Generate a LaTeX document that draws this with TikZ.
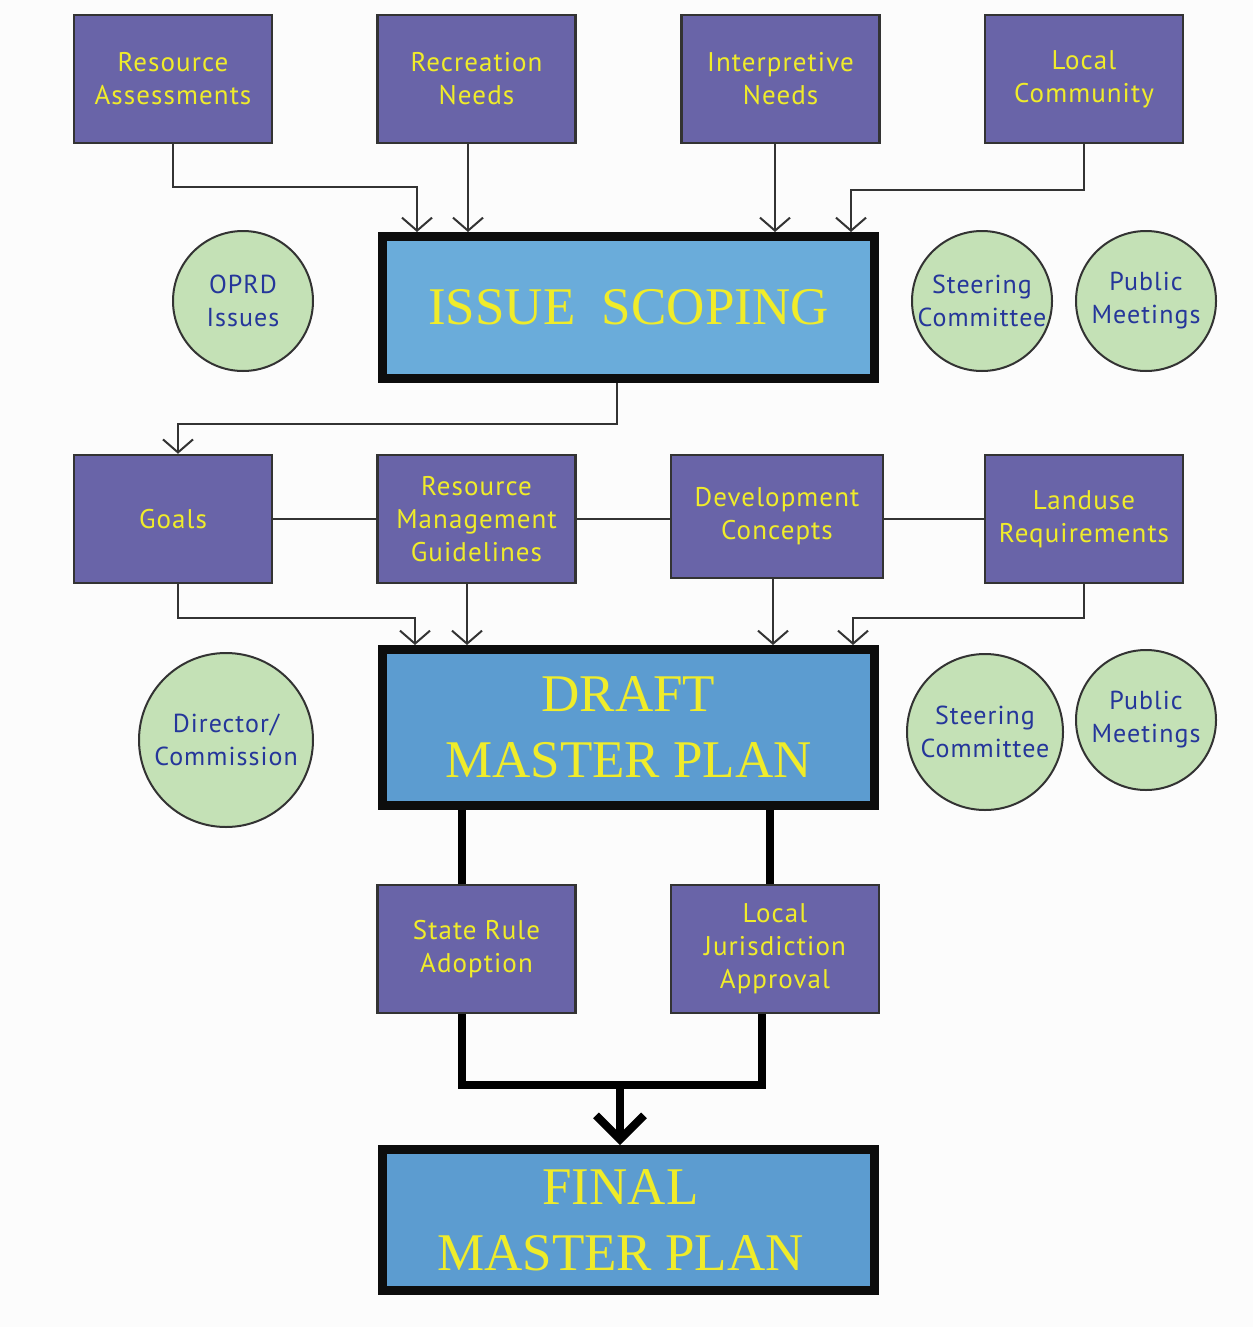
\documentclass[tikz,border=0pt]{standalone}
\usepackage{fontspec}
\setmainfont{Liberation Serif}
\newfontfamily\labelfont[LetterSpace=4]{PT Sans}
\usetikzlibrary{arrows.meta}
\definecolor{purp}{HTML}{6964A8}
\definecolor{blueA}{HTML}{6AACDA}
\definecolor{blueB}{HTML}{5C9CD0}
\definecolor{yel}{HTML}{F0EC2A}
\definecolor{grn}{HTML}{C4E1B6}
\definecolor{navy}{HTML}{25369A}
\definecolor{edge}{HTML}{333333}
\definecolor{bg}{HTML}{FCFCFC}
\begin{document}
\begin{tikzpicture}[x=1pt,y=-1pt,
  pbox/.style={draw=edge, line width=2.5pt, fill=purp, text=yel,
    font=\labelfont\fontsize{27}{33}\selectfont, align=center, inner sep=0pt,
    minimum width=198pt, minimum height=128pt},
  bigbox/.style={draw=black!95, line width=9pt, text=yel,
    font=\fontsize{53}{66}\selectfont, align=center, inner sep=0pt,
    minimum width=492pt},
  disc/.style={circle, draw=edge, line width=2pt, fill=grn, text=navy,
    font=\labelfont\fontsize{26}{33}\selectfont, align=center, inner sep=0pt},
  conn/.style={draw=edge, line width=2pt},
  arr/.style={conn, -{Straight Barb[length=13pt,width=30pt,line width=2pt]}},
  heavy/.style={draw=black, line width=8pt, line join=miter},
  heavyarr/.style={heavy, -{Straight Barb[length=24pt,width=48pt,line width=8pt]}}
]
\useasboundingbox[fill=bg] (0,0) rectangle (1253,1327);

% top row
\node[pbox] (ra) at (173,79) {Resource\\Assessments};
\node[pbox] (rn) at (476.5,79) {Recreation\\Needs};
\node[pbox] (in) at (780.5,79) {Interpretive\\Needs};
\node[pbox] (lc) at (1084,79) {Local\\Community};

% issue scoping
\node[bigbox, fill=blueA, minimum height=142pt] (is) at (628.5,307.5) {ISSUE\hspace{0.5em}SCOPING};

\node[disc, minimum size=140pt] (oprd) at (243,301) {OPRD\\Issues};
\node[disc, minimum size=140pt] (sc1) at (982,301) {Steering\\Committee};
\node[disc, minimum size=140pt] (pm1) at (1146,301) {Public\\Meetings};

\coordinate (isA) at (417,232);
\coordinate (isB) at (468,232);
\coordinate (isC) at (775,232);
\coordinate (isD) at (851,232);
\draw[arr] (ra.south) |- (417,187) -- (isA);
\draw[arr] (rn.south -| isB) -- (isB);
\draw[arr] (in.south -| isC) -- (isC);
\draw[arr] (lc.south) |- (851,190) -- (isD);

% second row
\node[pbox] (goals) at (173,519) {Goals};
\node[pbox] (rmg) at (476.5,519) {Resource\\Management\\Guidelines};
\node[pbox, minimum width=212pt, minimum height=123pt] (dc) at (777,516.5) {Development\\Concepts};
\node[pbox] (lr) at (1084,519) {Landuse\\Requirements};

\coordinate (isOut) at (617,383);
\draw[arr] (isOut) |- (178,424) -- (goals.north -| 178,0);

\draw[conn] (goals.east) -- (rmg.west);
\draw[conn] (rmg.east) -- (rmg.east -| dc.west);
\draw[conn] (rmg.east -| dc.east) -- (lr.west);

% draft master plan
\node[bigbox, fill=blueB, minimum height=156pt] (dmp) at (628.5,727.5) {DRAFT\\MASTER PLAN};

\coordinate (dA) at (415,645);
\coordinate (dB) at (467,645);
\coordinate (dC) at (773,645);
\coordinate (dD) at (853,645);
\draw[arr] (goals.south -| 178,0) |- (415,618) -- (dA);
\draw[arr] (rmg.south -| dB) -- (dB);
\draw[arr] (dc.south -| dC) -- (dC);
\draw[arr] (lr.south) |- (853,618) -- (dD);

\node[disc, minimum size=174pt] (dir) at (226,740) {Director/\\Commission};
\node[disc, minimum size=156pt] (sc2) at (985,732) {Steering\\Committee};
\node[disc, minimum size=140pt] (pm2) at (1146,720) {Public\\Meetings};

% approvals
\node[pbox] (sra) at (476.5,949) {State Rule\\Adoption};
\node[pbox, minimum width=208pt] (lja) at (775,949) {Local\\Jurisdiction\\Approval};

\draw[heavy] (dmp.south -| 462,0) -- (sra.north -| 462,0);
\draw[heavy] (dmp.south -| 770,0) -- (lja.north -| 770,0);

% final master plan
\node[bigbox, fill=blueB, minimum height=141pt] (fmp) at (628.5,1220) {FINAL\hspace*{16pt}\\MASTER PLAN\hspace*{16pt}};

\coordinate (join) at (620,1085);
\draw[heavy] (sra.south -| 462,0) |- (762,1085) -- (lja.south -| 762,0);
\draw[heavyarr] (join) -- (fmp.north -| join);
\end{tikzpicture}
\end{document}
